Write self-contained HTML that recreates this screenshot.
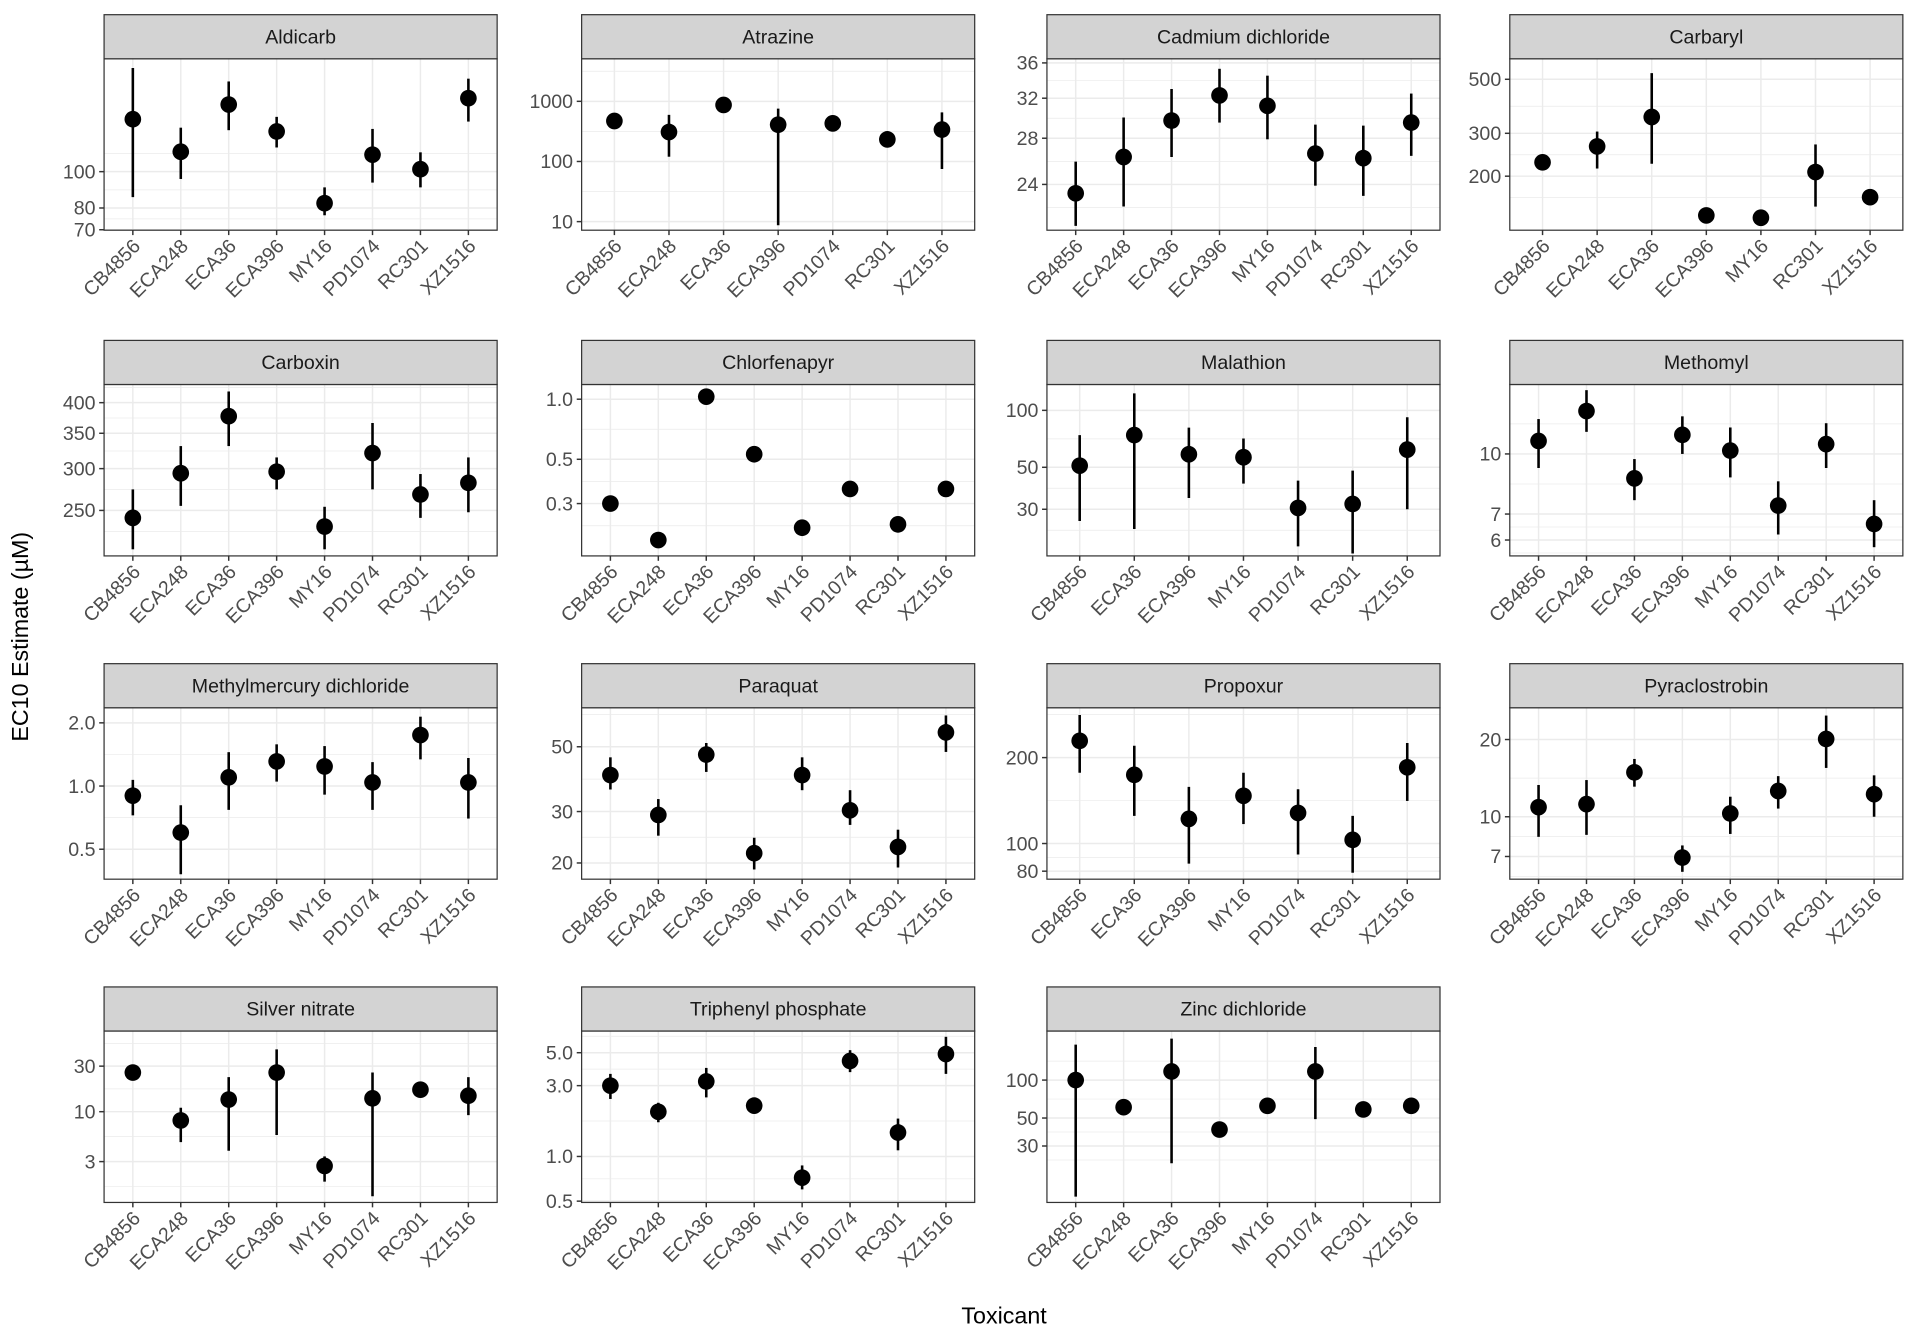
<!DOCTYPE html>
<html><head><meta charset="utf-8"><style>
html,body{margin:0;padding:0;background:#fff}
svg{display:block;font-family:"Liberation Sans",Arial,sans-serif}
</style></head><body>
<svg id="chart" width="1920" height="1344" viewBox="0 0 1568 1097.6" xmlns="http://www.w3.org/2000/svg">
<rect width="1568" height="1097.6" fill="#fff"/>
<text x="0" y="0" transform="translate(23,520) rotate(-90)" text-anchor="middle" font-size="19" fill="#000">EC10 Estimate (µM)</text>
<text x="820" y="1081" text-anchor="middle" font-size="19" fill="#000">Toxicant</text>
</svg>
<script>
const all8 = ["CB4856","ECA248","ECA36","ECA396","MY16","PD1074","RC301","XZ1516"];
const panelNames = ["Aldicarb","Atrazine","Cadmium dichloride","Carbaryl","Carboxin","Chlorfenapyr","Malathion","Methomyl","Methylmercury dichloride","Paraquat","Propoxur","Pyraclostrobin","Silver nitrate","Triphenyl phosphate","Zinc dichloride"];
const panelStrains = [
 all8,
 ["CB4856","ECA248","ECA36","ECA396","PD1074","RC301","XZ1516"],
 all8,
 ["CB4856","ECA248","ECA36","ECA396","MY16","RC301","XZ1516"],
 all8, all8,
 ["CB4856","ECA36","ECA396","MY16","PD1074","RC301","XZ1516"],
 all8, all8, all8,
 ["CB4856","ECA36","ECA396","MY16","PD1074","RC301","XZ1516"],
 all8, all8, all8, all8
];
const panelEst = [
 [138,113,151,128,82.4,111,101.5,157],
 [471,309,870,409,430,233,339],
 [23.3,26.3,29.7,32.3,31.2,26.6,26.2,29.5],
 [228,265,350,138,135,208,164],
 [242,294,377,296,233,321,268,282],
 [0.3,0.197,1.03,0.53,0.227,0.355,0.236,0.355],
 [51,74,58.6,56.5,30.5,32,62],
 [10.8,12.9,8.65,11.2,10.2,7.36,10.6,6.6],
 [0.9,0.6,1.1,1.31,1.24,1.04,1.75,1.04],
 [40,29.2,47,21.6,40,30.3,22.7,56],
 [229,174,122,147,128,103,185],
 [10.9,11.2,14.9,6.93,10.3,12.6,20.1,12.25],
 [25.7,8.1,13.4,25.7,2.7,13.8,17,14.7],
 [3.0,2.0,3.2,2.2,0.72,4.4,1.45,4.9],
 [100,61,117,40.5,62.5,117,58.5,62.5]
];
const panelLo = [
 [85.5,95.6,129,116,76.5,93.5,90.8,136],
 [440,120,830,8.7,410,222,75],
 [20.9,22.3,26.3,29.5,27.9,23.9,23.1,26.4],
 [218,215,225,133,130,150,158],
 [211,255,331,274,211,274,242,248],
 [0.29,0.19,1.0,0.51,0.22,0.34,0.23,0.34],
 [26,23.6,34.4,41,19.1,17.5,30],
 [9.2,11.4,7.6,10,8.7,6.2,9.2,5.75],
 [0.725,0.38,0.77,1.05,0.91,0.77,1.34,0.7],
 [35.7,24.8,41,19,35.5,27,19.3,48],
 [177,125,85,117,91.5,79,141],
 [8.35,8.5,13.1,6.1,8.57,10.76,15.5,10],
 [24,4.8,3.9,5.7,1.85,1.3,16,9.2],
 [2.44,1.7,2.5,2.05,0.6,3.7,1.1,3.6],
 [11.9,57,21.9,38,58,49,55,58]
];
const panelHi = [
 [189,131,174,140,90.8,130,112.6,177],
 [500,596,910,755,450,245,655],
 [25.9,30,33,35.3,34.5,29.3,29.2,32.5],
 [238,305,530,143,140,270,170],
 [274,331,420,315,254,366,293,315],
 [0.31,0.205,1.06,0.55,0.235,0.37,0.245,0.37],
 [74,123,81,71,42.5,48,92],
 [12.3,14.6,9.7,12.5,11.7,8.5,12,7.6],
 [1.07,0.81,1.45,1.58,1.55,1.3,2.14,1.36],
 [46,33.1,51.5,24.4,46,35.5,26,64],
 [282,220,158,177,155,125,225],
 [13.3,13.9,16.8,7.73,11.97,14.4,24.8,14.5],
 [27.5,11,23,45,3.4,25.7,18.2,23],
 [3.6,2.3,3.95,2.35,0.87,5.2,1.8,6.4],
 [191,66,213,43,67,183,62,67]
];
const panelTicks = [
 [70,80,100],[10,100,1000],[24,28,32,36],[200,300,500],[250,300,350,400],
 [0.3,0.5,1.0],[30,50,100],[6,7,10],[0.5,1.0,2.0],[20,30,50],[80,100,200],
 [7,10,20],[3,10,30],[0.5,1.0,3.0,5.0],[30,50,100]
];
const panelTickLabels = [
 ["70","80","100"],["10","100","1000"],["24","28","32","36"],["200","300","500"],["250","300","350","400"],
 ["0.3","0.5","1.0"],["30","50","100"],["6","7","10"],["0.5","1.0","2.0"],["20","30","50"],["80","100","200"],
 ["7","10","20"],["3","10","30"],["0.5","1.0","3.0","5.0"],["30","50","100"]
];
const panelDomain = [
 [69.8,200],[7.2,5100],[20.6,36.5],[120,607],[205,433],
 [0.164,1.185],[17,137],[5.46,15.1],[0.36,2.36],[17.6,68],[75,299],
 [5.71,26.6],[1.12,70],[0.49,7.0],[10.7,245]
];

const NS = "http://www.w3.org/2000/svg";
const svg = document.getElementById("chart");
const colX = [85,475,855,1233];
const rowY = [12,278,542,806];
const PW = 321, SH = 36, PH = 140;
function mk(tag, attrs, parent){
  const e = document.createElementNS(NS, tag);
  for (const k in attrs) e.setAttribute(k, attrs[k]);
  (parent||svg).appendChild(e);
  return e;
}
function slug(s){return s.toLowerCase().replace(/[^a-z0-9]+/g,'-');}

panelNames.forEach((name, p) => {
  const x0 = colX[p % 4], sy = rowY[Math.floor(p / 4)], y0 = sy + SH, y1 = y0 + PH, x1 = x0 + PW;
  const [dmin, dmax] = panelDomain[p];
  const lmin = Math.log10(dmin), lmax = Math.log10(dmax);
  const yScale = v => y1 - (Math.log10(v) - lmin) / (lmax - lmin) * PH;
  const strains = panelStrains[p];
  const n = strains.length;
  const step = PW / (n - 1 + 1.2);
  const xScale = i => x0 + step * 0.6 + i * step;

  const g = mk("g", {});
  
  

  const ticks = panelTicks[p];
  const lt = ticks.map(Math.log10);
  const minors = [];
  for (let i = 0; i < lt.length - 1; i++) minors.push((lt[i] + lt[i+1]) / 2);
  if (lt.length > 1) {
    minors.push(lt[0] - (lt[1]-lt[0])/2);
    minors.push(lt[lt.length-1] + (lt[lt.length-1]-lt[lt.length-2])/2);
  }
  minors.forEach(m => {
    if (m < lmin || m > lmax) return;
    const y = yScale(Math.pow(10, m));
    mk("line", {x1:x0, x2:x1, y1:y, y2:y, stroke:"#ebebeb", "stroke-width":0.6}, g);
  });
  ticks.forEach(t => {
    const y = yScale(t);
    mk("line", {x1:x0, x2:x1, y1:y, y2:y, stroke:"#ebebeb", "stroke-width":1.2}, g);
  });
  strains.forEach((s, i) => {
    const x = xScale(i);
    mk("line", {x1:x, x2:x, y1:y0, y2:y1, stroke:"#ebebeb", "stroke-width":1.2}, g);
  });

  strains.forEach((s, i) => {
    const x = xScale(i);
    const ln = mk("line", {x1:x, x2:x, y1:yScale(panelLo[p][i]), y2:yScale(panelHi[p][i]), stroke:"#000", "stroke-width":2.1}, g);
    
    
    const c = mk("circle", {cx:x, cy:yScale(panelEst[p][i]), r:6.8, fill:"#000"}, g);
    
    
  });

  mk("rect", {x:x0, y:y0, width:PW, height:PH, fill:"none", stroke:"#333", "stroke-width":1}, g);
  const st = mk("rect", {x:x0, y:sy, width:PW, height:SH, fill:"#d3d3d3", stroke:"#333", "stroke-width":1}, g);
  
  
  const tt = mk("text", {x:x0 + PW/2, y:sy + SH/2 + 5.5, "text-anchor":"middle", "font-size":16, fill:"#1a1a1a"}, g);
  tt.textContent = name;
  
  

  ticks.forEach((t, k) => {
    const y = yScale(t);
    mk("line", {x1:x0-4, x2:x0, y1:y, y2:y, stroke:"#333", "stroke-width":1.2}, g);
    const lb = mk("text", {x:x0-7, y:y+5.5, "text-anchor":"end", "font-size":16, fill:"#4d4d4d"}, g);
    lb.textContent = panelTickLabels[p][k];
    
    
  });
  strains.forEach((s, i) => {
    const x = xScale(i);
    mk("line", {x1:x, x2:x, y1:y1, y2:y1+4, stroke:"#333", "stroke-width":1.2}, g);
    const lb = mk("text", {x:0, y:0, "text-anchor":"end", "font-size":16, fill:"#4d4d4d",
      transform:"translate(" + (x+7) + "," + (y1+14) + ") rotate(-45)"}, g);
    lb.textContent = s;
    
    
  });
});
</script>
</body></html>
